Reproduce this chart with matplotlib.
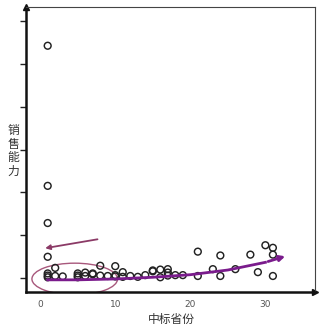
import matplotlib
matplotlib.use("Agg")
import matplotlib.pyplot as plt
from matplotlib.patches import Ellipse
import numpy as np

plt.rcParams['font.family'] = ['Noto Sans CJK SC', 'DejaVu Sans']

# scatter data (中标省份, 销售能力)
prov = [1, 1, 1, 1, 1, 1, 1,
        2, 2, 3,
        5, 5, 5, 6, 6, 7, 7,
        8, 8, 9, 10, 10, 10, 11, 11, 12, 13, 14,
        15, 15, 16, 16, 17, 17, 17, 18, 19,
        21, 21, 23, 24, 24, 26, 28, 29, 30, 31, 31, 31]
sales = [5.43, 2.15, 1.28, 0.49, 0.10, 0.05, 0.01,
         0.23, 0.04, 0.03,
         0.10, 0.05, 0.01, 0.12, 0.04, 0.10, 0.08,
         0.28, 0.05, 0.04, 0.27, 0.06, 0.03, 0.13, 0.02, 0.04, 0.02, 0.06,
         0.17, 0.15, 0.19, 0.01, 0.20, 0.12, 0.05, 0.06, 0.06,
         0.61, 0.04, 0.20, 0.52, 0.04, 0.20, 0.54, 0.13, 0.76, 0.70, 0.54, 0.04]

# trend curve points
trend_x = [1, 5, 10, 15, 20, 25, 30, 33]
trend_y = [-0.05, -0.05, -0.03, 0.01, 0.07, 0.18, 0.36, 0.52]

xticks = [0, 10, 20, 30]
yticks = [0, 1, 2, 3, 4, 5, 6]

fig = plt.figure(figsize=(3.24, 3.27), dpi=100)
ax = fig.add_axes([0.080, 0.107, 0.892, 0.872])

ax.scatter(prov, sales, s=24, facecolors='none', edgecolors='#222222', linewidths=1.05, zorder=3)

# trend line with arrow
ax.plot(trend_x[:-1], trend_y[:-1], color='#7a1b8c', lw=2, zorder=4)
ax.annotate('', xy=(trend_x[-1], trend_y[-1]), xytext=(trend_x[-2], trend_y[-2]),
            arrowprops=dict(arrowstyle='-|>', color='#7a1b8c', lw=2, mutation_scale=8), zorder=4)

# highlight ellipse and arrow
ax.add_patch(Ellipse((4.6, -0.03), 11.4, 0.74, fill=False, edgecolor='#a8587c', lw=1, zorder=2))
ax.annotate('', xy=(0.3, 0.68), xytext=(8.0, 0.91),
            arrowprops=dict(arrowstyle='-|>', color='#8b3a66', lw=1.3, mutation_scale=7))

ax.set_xlim(-1.9, 36.6)
ax.set_ylim(-0.335, 6.34)
ax.set_xticks(xticks)
ax.set_xticklabels([str(t) for t in xticks], fontsize=6.5, color='#555555', family='DejaVu Sans')
ax.set_yticks(yticks)
ax.set_yticklabels([])
ax.tick_params(axis='x', length=0, pad=6)
ax.tick_params(axis='y', length=4, width=1, direction='out', color='#222222')

for s in ['left', 'bottom']:
    ax.spines[s].set_linewidth(1.8)
    ax.spines[s].set_color('#111111')
for s in ['top', 'right']:
    ax.spines[s].set_linewidth(0.8)
    ax.spines[s].set_color('#444444')

# axis arrows
ax.plot(1, 0, '>', transform=ax.transAxes, color='#111111', ms=4, clip_on=False)
ax.plot(0, 1, '^', transform=ax.transAxes, color='#111111', ms=4, clip_on=False)

fig.text(171/324, 1 - 319/327, '中标省份', ha='center', va='center', fontsize=8.5, color='#333333')
fig.text(13/324, 1 - 151/327, '销\n售\n能\n力', ha='center', va='center', fontsize=8.5, color='#333333', linespacing=1.05)

fig.savefig('out.png', dpi=100)
